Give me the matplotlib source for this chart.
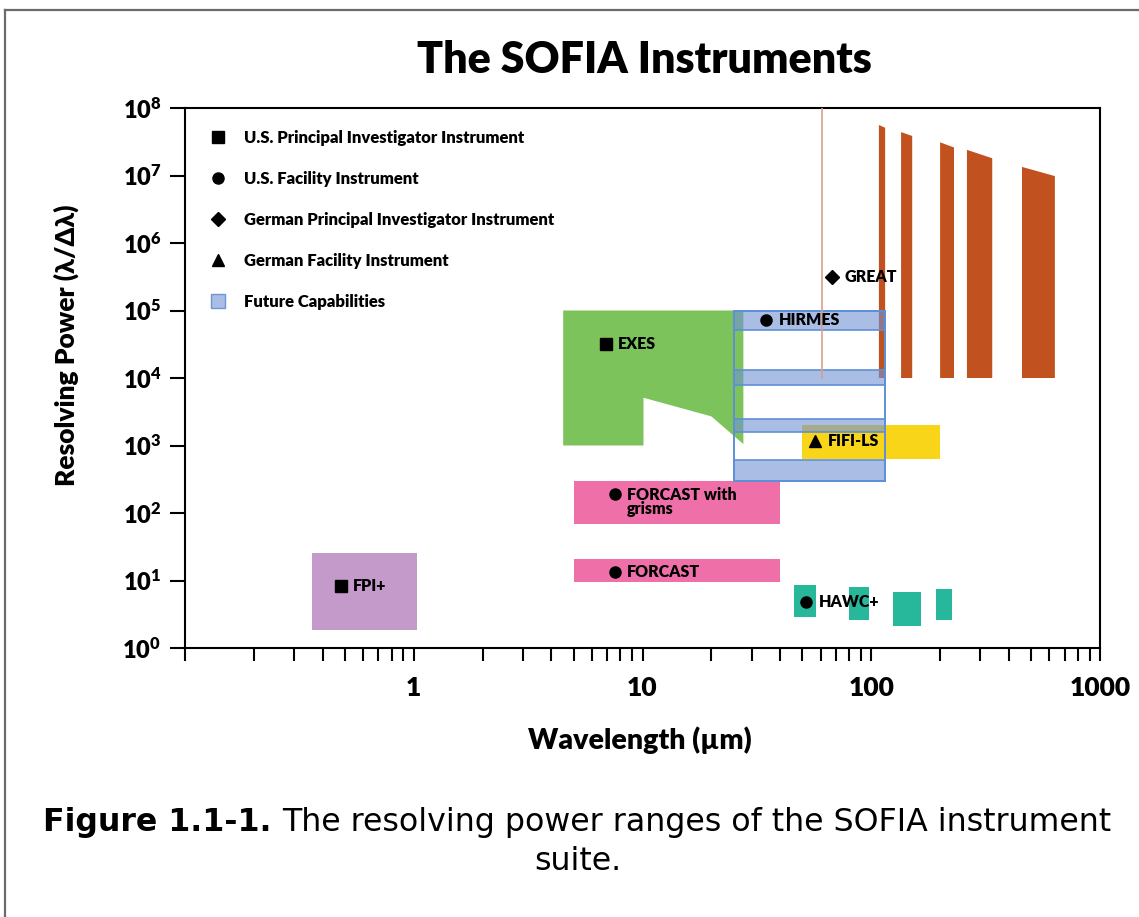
import math
import matplotlib
matplotlib.use("Agg")
import matplotlib.pyplot as plt
from matplotlib.lines import Line2D
from matplotlib.ticker import LogLocator, FuncFormatter, NullFormatter, FixedLocator

plt.rcParams['font.family'] = ['Lato', 'Open Sans', 'DejaVu Sans']
plt.rcParams['font.weight'] = 'heavy'
plt.rcParams['mathtext.fontset'] = 'custom'
plt.rcParams['mathtext.default'] = 'bf'
plt.rcParams['mathtext.bf'] = 'Lato:heavy'
plt.rcParams['mathtext.rm'] = 'Lato:heavy'

# instrument coverage (wavelength in micron, resolving power)
fpi_x = [0.36, 1.03]
fpi_y = [1.85, 25.5]
forcast_x = [5.0, 40]
forcast_y = [9.5, 21]
grism_x = [5.0, 40]
grism_y = [69, 300]
exes_x = [4.5, 27.6, 27.6, 20, 10.1, 10.1, 4.5]
exes_y = [1e5, 1e5, 1050, 2700, 5100, 1000, 1000]
future_x = [25, 115]
future_y = [300, 1e5]
future_lo = [5.1e4, 7.9e3, 1.6e3, 300]
future_hi = [1e5, 1.3e4, 2.5e3, 610]
fifi_x = [50, 200]
fifi_y = [630, 2000]
great_line_x = 61
great_line_y = [1e4, 1e8]
great_xl = [108, 135, 200, 262, 456]
great_xr = [115, 151, 230, 338, 635]
great_top_l = [5.6e7, 4.4e7, 3.1e7, 2.4e7, 1.34e7]
great_top_r = [5.1e7, 3.85e7, 2.6e7, 1.8e7, 9.8e6]
great_bottom = 1e4
hawc_xl = [46, 80, 125, 192]
hawc_xr = [57.5, 98, 165, 226]
hawc_lo = [2.9, 2.6, 2.1, 2.6]
hawc_hi = [8.6, 8.0, 6.8, 7.5]

# instrument markers and labels
labels = ['EXES', 'HIRMES', 'GREAT', 'FIFI-LS', 'FORCAST with\ngrisms', 'FORCAST', 'FPI+', 'HAWC+']
mark_x = [6.9, 34.8, 67.6, 57, 7.55, 7.55, 0.48, 52]
mark_y = [3.2e4, 7.2e4, 3.1e5, 1170, 191, 13.4, 8.3, 4.8]
mark_sym = ['s', 'o', 'D', '^', 'o', 'o', 's', 'o']

legend_labels = ['U.S. Principal Investigator Instrument', 'U.S. Facility Instrument',
                 'German Principal Investigator Instrument', 'German Facility Instrument',
                 'Future Capabilities']
legend_sym = ['s', 'o', 'D', '^', 's']

x_ticks = [0.1, 1, 10, 100, 1000]
y_ticks = [10**k for k in range(9)]

W, H = 1139, 917
fig = plt.figure(figsize=(W/100, H/100), dpi=100)
ax = fig.add_axes([185/W, 1-648/H, (1100-185)/W, (648-108)/H])
ax.set_xscale('log')
ax.set_yscale('log')
ax.set_xlim(0.1, 1000)
ax.set_ylim(1, 1e8)

def box(x, y):
    return [x[0], x[1], x[1], x[0]], [y[0], y[0], y[1], y[1]]

ax.fill(*box(fpi_x, fpi_y), color='#c39ac9', lw=0, zorder=1)
ax.fill(*box(forcast_x, forcast_y), color='#ef6fa8', lw=0, zorder=1)
ax.fill(*box(grism_x, grism_y), color='#ef6fa8', lw=0, zorder=1)
ax.fill(exes_x, exes_y, color='#7cc35c', lw=0, zorder=1)
ax.fill(*box(fifi_x, fifi_y), color='#f9d51a', lw=0, zorder=1)
for xl, xr, lo, hi in zip(hawc_xl, hawc_xr, hawc_lo, hawc_hi):
    ax.fill(*box([xl, xr], [lo, hi]), color='#27b79b', lw=0, zorder=1)
for xl, xr, tl, tr in zip(great_xl, great_xr, great_top_l, great_top_r):
    ax.fill([xl, xl, xr, xr], [great_bottom, tl, tr, great_bottom], color='#c1521f', lw=0, zorder=1)
ax.plot([great_line_x, great_line_x], great_line_y, color='#d9a088', lw=1.2, zorder=3)

# future capabilities
for lo, hi in zip(future_lo, future_hi):
    ax.fill(*box(future_x, [lo, hi]), facecolor='#7091d5', alpha=0.6, lw=0, zorder=2)
    ax.fill(*box(future_x, [lo, hi]), facecolor='none', edgecolor='#5f8fd6', lw=1.2, zorder=2)
ax.fill(*box(future_x, future_y), facecolor='none', edgecolor='#5f8fd6', lw=1.4, zorder=2)

for lab, x, y, s in zip(labels, mark_x, mark_y, mark_sym):
    ms = {'s': 8, 'o': 8, 'D': 7, '^': 9}[s]
    ax.plot(x, y, marker=s, color='black', ms=ms, ls='none', zorder=5)
    dy = -6 if '\n' in lab else 0
    ax.annotate(lab, (x, y), xytext=(9, dy), textcoords='offset points', va='center', ha='left',
                fontsize=11.5, linespacing=0.85, zorder=6)

handles = []
for s in legend_sym:
    if len(handles) == 4:
        handles.append(Line2D([], [], marker='s', ls='none', mfc='#a9bde6', mec='#6d96d8', ms=10))
    else:
        ms = {'s': 8, 'o': 8, 'D': 7, '^': 9}[s]
        handles.append(Line2D([], [], marker=s, ls='none', color='black', ms=ms))
ax.legend(handles, legend_labels, loc='upper left', bbox_to_anchor=(0.028, 0.96), frameon=False,
          fontsize=12, handlelength=0.9, handletextpad=1.1, labelspacing=1.5, borderpad=0, borderaxespad=0)

ax.xaxis.set_major_locator(FixedLocator(x_ticks))
ax.xaxis.set_major_formatter(FuncFormatter(lambda v, p: '' if v < 1 else '%d' % round(v)))
ax.xaxis.set_minor_locator(LogLocator(base=10, subs=range(2, 10), numticks=20))
ax.xaxis.set_minor_formatter(NullFormatter())
ax.yaxis.set_major_locator(FixedLocator(y_ticks))
ax.yaxis.set_major_formatter(FuncFormatter(lambda v, p: r'$10^{%d}$' % round(math.log10(v))))
ax.yaxis.set_minor_locator(FixedLocator([]))
ax.tick_params(axis='x', which='both', direction='out', length=9, width=1.5, labelsize=19, pad=11)
ax.tick_params(axis='y', which='both', direction='out', length=11, width=1.5, labelsize=17, pad=6)
for sp in ax.spines.values():
    sp.set_linewidth(1.5)

fig.text(644/W, 1-60/H, 'The SOFIA Instruments', ha='center', va='center', fontsize=31)
fig.text(66/W, 1-345/H, 'Resolving Power (λ/Δλ)', rotation=90, ha='center', va='center', fontsize=19)
fig.text(640/W, 1-740/H, 'Wavelength (µm)', ha='center', va='center', fontsize=20.5)

# caption
cy = 1-823/H
tb = fig.text(0, cy, 'Figure 1.1-1.', fontsize=22.8, family='DejaVu Sans', weight='bold', va='center')
tr = fig.text(0, cy, 'The resolving power ranges of the SOFIA instrument', fontsize=22.8,
              family='DejaVu Sans', weight='normal', va='center')
r = fig.canvas.get_renderer()
wb = tb.get_window_extent(r).width
wr = tr.get_window_extent(r).width
gap = 10
x0 = 577 - (wb + gap + wr) / 2
tb.set_x(x0/W)
tr.set_x((x0 + wb + gap)/W)
fig.text(578/W, 1-862/H, 'suite.', fontsize=22.8, family='DejaVu Sans', weight='normal', ha='center', va='center')

# page border
fig.add_artist(Line2D([4.5/W, 4.5/W], [0, 1-9.5/H], transform=fig.transFigure, color='#6b6b6b', lw=1.6))
fig.add_artist(Line2D([4.5/W, 1], [1-9.5/H, 1-9.5/H], transform=fig.transFigure, color='#6b6b6b', lw=1.6))

fig.savefig('out.png', dpi=100)
